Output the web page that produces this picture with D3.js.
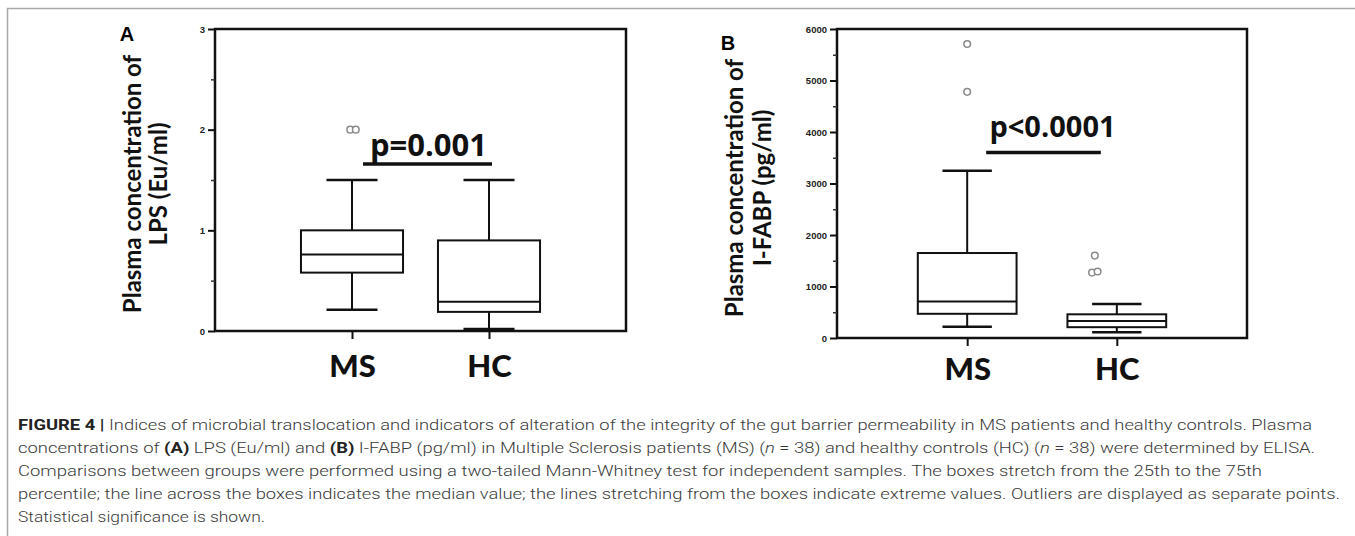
<!DOCTYPE html>
<html>
<head>
<meta charset="utf-8">
<title>Figure 4 - LPS and I-FABP box plots</title>
<style>
  body { margin: 0; background: #fff; }
  svg { display: block; }
  .panel-letter { font-family: Arial, "Liberation Sans", sans-serif; font-weight: bold; font-size: 20px; }
  .ylab { font-family: Lato, "Open Sans", sans-serif; font-weight: bold; font-size: 24px; }
  .tick-lab { font-family: Arial, "Liberation Sans", sans-serif; font-weight: bold; font-size: 9.5px; fill: #222; }
  .xlab { font-family: Lato, "Open Sans", sans-serif; font-weight: 900; font-size: 31px; }
  .sig { font-family: "Open Sans", Lato, sans-serif; font-weight: bold; }
  .caption { font-family: Roboto, "Liberation Sans", sans-serif; font-size: 15.5px; fill: #3a3a3a; font-weight: 300; }
</style>
</head>
<body>
<div id="chart"></div>
<script src="https://d3js.org/d3.v7.min.js"></script>
<script>
// ---- data ----
var groups = ['MS', 'HC'];

// panel A: LPS (Eu/ml)  [low whisker, Q1, median, Q3, high whisker]
var lpsMS = [0.21, 0.58, 0.76, 1.0, 1.5];
var lpsHC = [0.02, 0.19, 0.29, 0.90, 1.5];
var lpsOutMS = [2.0, 2.0];
var lpsOutHC = [];
var lpsTicks = [0, 1, 2, 3];

// panel B: I-FABP (pg/ml)
var fabpMS = [220, 470, 710, 1650, 3250];
var fabpHC = [110, 210, 330, 460, 660];
var fabpOutMS = [5710, 4780];
var fabpOutHC = [1600, 1270, 1290];
var fabpTicks = [0, 1000, 2000, 3000, 4000, 5000, 6000];

var sigText = ['p=0.001', 'p<0.0001'];
var sigLevel = [1.66, 3600];

var W = 1355, H = 536;
var svg = d3.select('#chart').append('svg').attr('width', W).attr('height', H);

// frame of the figure (only top and left edge visible)
svg.append('path')
  .attr('d', 'M7.5,536 V8.5 H1355')
  .attr('fill', 'none')
  .attr('stroke', '#a8a8a8')
  .attr('stroke-width', 1.5);

function drawPanel(cfg) {
  var y = d3.scaleLinear().domain(cfg.domain).range([cfg.bottom, cfg.top]);
  var x = d3.scalePoint().domain(groups).range([cfg.left, cfg.right]).padding(cfg.pad);
  var step = x.step();
  var bw = step * cfg.boxFrac;
  var g = svg.append('g');

  // plot frame
  g.append('rect')
    .attr('x', cfg.left).attr('y', cfg.top)
    .attr('width', cfg.right - cfg.left).attr('height', cfg.bottom - cfg.top)
    .attr('fill', 'none').attr('stroke', '#111').attr('stroke-width', 2.5);

  // y axis major + minor ticks
  var yAxis = d3.axisLeft(y).tickValues(cfg.ticks).tickSize(7).tickPadding(3).tickFormat(d3.format('d'));
  var ya = g.append('g').attr('transform', 'translate(' + cfg.left + ',0)').call(yAxis);
  ya.select('.domain').remove();
  ya.selectAll('line').attr('stroke', '#111').attr('stroke-width', 2);
  ya.selectAll('text').attr('class', 'tick-lab').attr('font-size', null).attr('font-family', null);
  var minor = d3.range(cfg.domain[0] + cfg.minor, cfg.domain[1], cfg.minor * 2);
  g.append('g').attr('transform', 'translate(' + cfg.left + ',0)')
    .call(d3.axisLeft(y).tickValues(minor).tickSize(4).tickFormat(''))
    .call(function(s) { s.select('.domain').remove(); s.selectAll('line').attr('stroke', '#333').attr('stroke-width', 1.5); });

  // x axis ticks and labels
  var xa = g.append('g').attr('transform', 'translate(0,' + cfg.bottom + ')')
    .call(d3.axisBottom(x).tickSize(8).tickPadding(cfg.xPad));
  xa.select('.domain').remove();
  xa.selectAll('line').attr('stroke', '#111').attr('stroke-width', 2);
  xa.selectAll('text').attr('class', 'xlab').attr('font-size', null).attr('font-family', null)
    .attr('fill', '#111').attr('dy', '0.8em');

  // boxes
  cfg.stats.forEach(function(s, i) {
    var cx = x(groups[i]);
    var bg = g.append('g').attr('stroke', '#111').attr('stroke-width', 2).attr('fill', 'none');
    bg.append('line').attr('x1', cx).attr('x2', cx).attr('y1', y(s[0])).attr('y2', y(s[1]));
    bg.append('line').attr('x1', cx).attr('x2', cx).attr('y1', y(s[3])).attr('y2', y(s[4]));
    [s[0], s[4]].forEach(function(v) {
      bg.append('line').attr('x1', cx - bw / 4).attr('x2', cx + bw / 4).attr('y1', y(v)).attr('y2', y(v)).attr('stroke-width', 2.5);
    });
    bg.append('rect').attr('x', cx - bw / 2).attr('width', bw)
      .attr('y', y(s[3])).attr('height', y(s[1]) - y(s[3])).attr('fill', '#fff');
    bg.append('line').attr('x1', cx - bw / 2).attr('x2', cx + bw / 2).attr('y1', y(s[2])).attr('y2', y(s[2]));

    // outliers; points that would overlap are nudged apart
    var outs = cfg.outliers[i];
    var seen = {};
    g.selectAll(null).data(outs).enter().append('circle')
      .attr('cx', function(d) {
        var near = outs.filter(function(o) { return Math.abs(y(o) - y(d)) < 6; });
        var key = near.length > 1 ? Math.min.apply(null, near) : d;
        var k = seen[key] = (seen[key] || 0) + 1;
        return cx + cfg.outShift[i] + (near.length > 1 ? (k % 2 ? -2.8 : 2.8) : 0);
      })
      .attr('cy', function(d) { return y(d); })
      .attr('r', 3.3)
      .attr('fill', '#fff').attr('stroke', '#8a8a8a').attr('stroke-width', 1.5);
  });

  // significance bar
  var x1 = x(groups[0]) + cfg.sigFrom, x2 = x(groups[1]) + cfg.sigTo;
  g.append('line').attr('x1', x1).attr('x2', x2)
    .attr('y1', y(cfg.sigLevel)).attr('y2', y(cfg.sigLevel))
    .attr('stroke', '#111').attr('stroke-width', 3.5);
  g.append('text').attr('class', 'sig')
    .attr('x', (x1 + x2) / 2 + cfg.sigDx).attr('y', y(cfg.sigLevel) - cfg.sigGap)
    .attr('text-anchor', 'middle').attr('font-size', cfg.sigSize)
    .attr('fill', '#111').text(cfg.sigText);

  // panel letter and y label
  svg.append('text').attr('class', 'panel-letter')
    .attr('x', cfg.letterX).attr('y', cfg.letterY).attr('text-anchor', 'middle').text(cfg.letter);
  cfg.ylab.forEach(function(t, j) {
    svg.append('text').attr('class', 'ylab')
      .attr('transform', 'translate(' + cfg.ylabX[j] + ',' + cfg.ylabY + ') rotate(-90)')
      .attr('text-anchor', 'middle').attr('dominant-baseline', 'central')
      .attr('fill', '#111').text(t);
  });
}

drawPanel({
  domain: [0, 3], ticks: lpsTicks, minor: 0.5,
  left: 215, right: 626, top: 29, bottom: 331, pad: 1.0, boxFrac: 0.745, xPad: 13,
  stats: [lpsMS, lpsHC], outliers: [lpsOutMS, lpsOutHC], outShift: [1, 0],
  sigText: sigText[0], sigLevel: sigLevel[0], sigFrom: 11, sigTo: 3, sigDx: 1, sigGap: 8, sigSize: 31,
  letter: 'A', letterX: 127, letterY: 41,
  ylab: ['Plasma concentration of', 'LPS (Eu/ml)'], ylabX: [131, 157], ylabY: 184
});

drawPanel({
  domain: [0, 6000], ticks: fabpTicks, minor: 500,
  left: 837, right: 1247, top: 29, bottom: 338, pad: 0.87, boxFrac: 0.66, xPad: 9,
  stats: [fabpMS, fabpHC], outliers: [fabpOutMS, fabpOutHC], outShift: [0, -22],
  sigText: sigText[1], sigLevel: sigLevel[1], sigFrom: 19, sigTo: -16, sigDx: 9, sigGap: 16, sigSize: 29,
  letter: 'B', letterX: 728, letterY: 50,
  ylab: ['Plasma concentration of', 'I-FABP (pg/ml)'], ylabX: [733, 761], ylabY: 188
});

// caption
var capLines = [
  [['FIGURE 4 | ', 'b'], ['Indices of microbial translocation and indicators of alteration of the integrity of the gut barrier permeability in MS patients and healthy controls. Plasma', '']],
  [['concentrations of ', ''], ['(A)', 'b'], [' LPS (Eu/ml) and ', ''], ['(B)', 'b'], [' I-FABP (pg/ml) in Multiple Sclerosis patients (MS) (', ''], ['n', 'i'], [' = 38) and healthy controls (HC) (', ''], ['n', 'i'], [' = 38) were determined by ELISA.', '']],
  [['Comparisons between groups were performed using a two-tailed Mann-Whitney test for independent samples. The boxes stretch from the 25th to the 75th', '']],
  [['percentile; the line across the boxes indicates the median value; the lines stretching from the boxes indicate extreme values. Outliers are displayed as separate points.', '']],
  [['Statistical significance is shown.', '']]
];
var capWidths = [1294, 1297, 1244, 1322, 247];
var capY = [430, 453, 476, 499, 522];

capLines.forEach(function(parts, i) {
  var t = svg.append('text').attr('class', 'caption').attr('x', 18).attr('y', capY[i]);
  parts.forEach(function(p) {
    var ts = t.append('tspan').text(p[0]);
    if (p[1] === 'b') ts.attr('font-weight', 'bold').attr('fill', '#222');
    if (p[1] === 'i') ts.attr('font-style', 'italic');
  });
  t.attr('textLength', capWidths[i]).attr('lengthAdjust', 'spacingAndGlyphs');
});
</script>
</body>
</html>
